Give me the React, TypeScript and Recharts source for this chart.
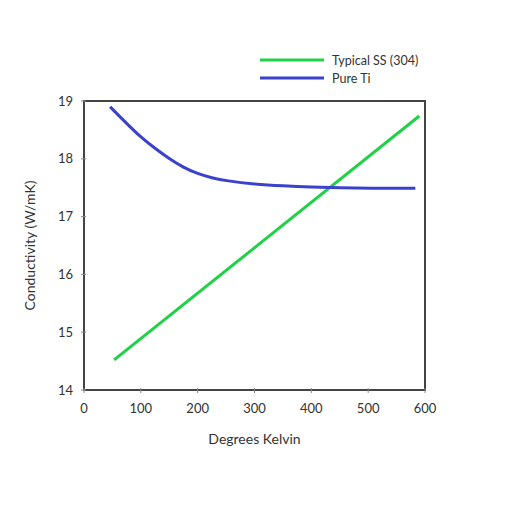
import React from "react";
import { LineChart, Line, XAxis, YAxis, CartesianGrid, Legend, ReferenceArea } from "recharts";

const ssKelvin = [53, 590];
const ssConductivity = [14.52, 18.74];

const tiKelvin = [46, 70, 100, 125, 150, 175, 200, 225, 250, 300, 350, 400, 450, 500, 583];
const tiConductivity = [18.9, 18.66, 18.37, 18.18, 18.0, 17.85, 17.74, 17.67, 17.62, 17.56, 17.53, 17.51, 17.5, 17.49, 17.49];

const xTicks = [0, 100, 200, 300, 400, 500, 600];
const yTicks = [14, 15, 16, 17, 18, 19];
const legendOrder = ["Typical SS (304)", "Pure Ti"];

const ssData = ssKelvin.map((k, i) => ({ k, v: ssConductivity[i] }));
const tiData = tiKelvin.map((k, i) => ({ k, v: tiConductivity[i] }));

const FONT = "Lato, 'Open Sans', sans-serif";
const TEXT = "#333";
const GREEN = "#1fd146";
const BLUE = "#3a41cc";

const BottomTick = (props: any) => {
  const { x, y, payload } = props;
  return (
    <g>
      <line x1={x} x2={x} y1={y - 5} y2={y - 10} stroke="#888" strokeWidth={1} />
      <text x={x} y={y + 15} textAnchor="middle" fill={TEXT} fontSize={13} fontFamily={FONT}>
        {payload.value}
      </text>
    </g>
  );
};

const LeftTick = (props: any) => {
  const { x, y, payload } = props;
  return (
    <g>
      <line x1={x + 5} x2={x + 10} y1={y} y2={y} stroke="#888" strokeWidth={1} />
      <text x={x - 3} y={y + 4.5} textAnchor="end" fill={TEXT} fontSize={13} fontFamily={FONT}>
        {payload.value}
      </text>
    </g>
  );
};

const TopTick = (props: any) => {
  const { x, y } = props;
  return <line x1={x} x2={x} y1={y + 1} y2={y + 6} stroke="#888" strokeWidth={1} />;
};

const RightTick = (props: any) => {
  const { x, y } = props;
  return <line x1={x - 1} x2={x - 6} y1={y} y2={y} stroke="#888" strokeWidth={1} />;
};

const LegendContent = (props: any) => {
  const payload = [...(props.payload || [])].sort(
    (a: any, b: any) => legendOrder.indexOf(a.value) - legendOrder.indexOf(b.value)
  );
  return (
    <div style={{ fontFamily: FONT, fontSize: 12.5, color: TEXT }}>
      {payload.map((p: any) => (
        <div key={p.value} style={{ display: "flex", alignItems: "center", height: 18 }}>
          <svg width={64} height={6} style={{ marginRight: 8 }}>
            <line x1={0} x2={64} y1={3} y2={3} stroke={p.color} strokeWidth={3} />
          </svg>
          <span>{p.value}</span>
        </div>
      ))}
    </div>
  );
};

export default function App() {
  return (
    <div style={{ position: "absolute", left: 0, top: 0, width: 512, height: 512, background: "#fff" }}>
      <LineChart
        width={512}
        height={512}
        margin={{ top: 100, right: 86, bottom: 92, left: 44 }}
      >
        <CartesianGrid stroke="#ececec" strokeWidth={1} />
        <XAxis
          xAxisId="b"
          dataKey="k"
          type="number"
          domain={[0, 600]}
          ticks={xTicks}
          axisLine={{ stroke: "#444", strokeWidth: 2 }}
          tickLine={false}
          tick={<BottomTick />}
          height={30}
          label={{ value: "Degrees Kelvin", position: "bottom", offset: 8, fill: TEXT, fontSize: 14, fontFamily: FONT, dy: 6 }}
        />
        <XAxis
          xAxisId="t"
          orientation="top"
          dataKey="k"
          type="number"
          domain={[0, 600]}
          ticks={xTicks}
          axisLine={false}
          tickLine={false}
          tick={<TopTick />}
          height={1}
        />
        <YAxis
          yAxisId="l"
          type="number"
          domain={[14, 19]}
          ticks={yTicks}
          axisLine={{ stroke: "#444", strokeWidth: 2 }}
          tickLine={false}
          tick={<LeftTick />}
          width={40}
          label={{ value: "Conductivity (W/mK)", angle: -90, position: "insideLeft", offset: 0, dx: -14, dy: 0, fill: TEXT, fontSize: 14, fontFamily: FONT, style: { textAnchor: "middle" } }}
        />
        <YAxis
          yAxisId="r"
          orientation="right"
          type="number"
          domain={[14, 19]}
          ticks={yTicks}
          axisLine={false}
          tickLine={false}
          tick={<RightTick />}
          width={1}
        />
        <ReferenceArea
          xAxisId="b"
          yAxisId="l"
          x1={0}
          x2={600}
          y1={14}
          y2={19}
          fill="none"
          fillOpacity={0}
          stroke="#444"
          strokeWidth={2}
          ifOverflow="visible"
        />
        <Legend
          layout="vertical"
          align="center"
          verticalAlign="middle"
          content={<LegendContent />}
          wrapperStyle={{ position: "absolute", left: 260, top: 51, width: 200, height: 40 }}
        />
        <Line
          xAxisId="b"
          yAxisId="l"
          data={ssData}
          dataKey="v"
          name="Typical SS (304)"
          type="linear"
          stroke={GREEN}
          strokeWidth={3}
          dot={false}
          isAnimationActive={false}
        />
        <Line
          xAxisId="b"
          yAxisId="l"
          data={tiData}
          dataKey="v"
          name="Pure Ti"
          type="basis"
          stroke={BLUE}
          strokeWidth={3}
          dot={false}
          isAnimationActive={false}
        />
      </LineChart>
    </div>
  );
}
